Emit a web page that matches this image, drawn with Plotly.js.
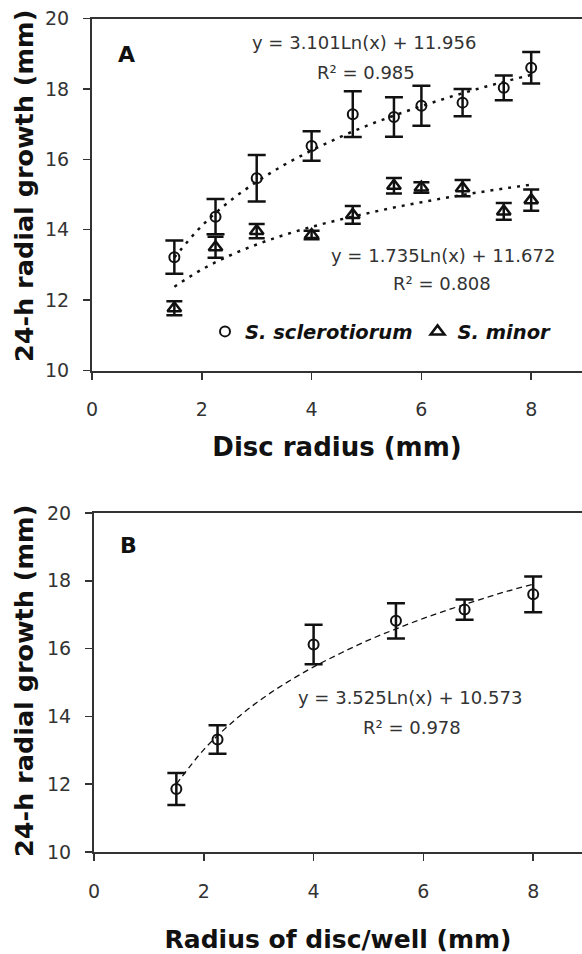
<!DOCTYPE html>
<html><head><meta charset="utf-8">
<script src="https://cdn.plot.ly/plotly-3.0.1.min.js"></script>
<style>html,body{margin:0;padding:0;background:#fff;} #chart{width:582px;height:954px;}</style>
</head><body><div id="chart"></div>
<script>
// ---- Panel A data ----
const discRadiusA = [1.5, 2.25, 3, 4, 4.75, 5.5, 6, 6.75, 7.5, 8];
const sclerotiorumA = [13.22, 14.37, 15.46, 16.38, 17.28, 17.2, 17.52, 17.61, 18.03, 18.6];
const sclerotiorumErrA = [0.47, 0.5, 0.66, 0.42, 0.65, 0.56, 0.57, 0.39, 0.35, 0.45];
const minorA = [11.77, 13.5, 13.96, 13.85, 14.42, 15.25, 15.2, 15.18, 14.52, 14.84];
const minorErrA = [0.2, 0.3, 0.2, 0.12, 0.25, 0.22, 0.15, 0.23, 0.24, 0.3];
// trend curves
const trendX = [1.5, 2, 2.5, 3, 3.5, 4, 4.5, 5, 5.5, 6, 6.5, 7, 7.5, 8];
const trendSclerotiorumA = [13.21, 14.11, 14.80, 15.36, 15.84, 16.25, 16.62, 16.95, 17.24, 17.51, 17.76, 17.99, 18.20, 18.40];
const trendMinorA = [12.38, 12.87, 13.26, 13.58, 13.85, 14.08, 14.28, 14.46, 14.63, 14.78, 14.92, 15.05, 15.17, 15.28];
// ---- Panel B data ----
const wellRadiusB = [1.5, 2.25, 4, 5.5, 6.75, 8];
const sclerotiorumB = [11.86, 13.32, 16.12, 16.82, 17.15, 17.6];
const sclerotiorumErrB = [0.47, 0.42, 0.58, 0.52, 0.3, 0.53];
const trendB = [12.00, 13.02, 13.80, 14.45, 14.99, 15.46, 15.87, 16.25, 16.58, 16.89, 17.17, 17.43, 17.68, 17.90];
// ---- text ----
const xTickVals = [0, 2, 4, 6, 8];
const xTickText = ['0', '2', '4', '6', '8'];
const yTickVals = [10, 12, 14, 16, 18, 20];
const yTickText = ['10', '12', '14', '16', '18', '20'];
const yTitle = '24-h radial growth (mm)';
const xTitleA = 'Disc radius (mm)';
const xTitleB = 'Radius of disc/well (mm)';
const eqA1 = 'y = 3.101Ln(x) + 11.956';
const r2A1 = 'R² = 0.985';
const eqA2 = 'y = 1.735Ln(x) + 11.672';
const r2A2 = 'R² = 0.808';
const eqB = 'y = 3.525Ln(x) + 10.573';
const r2B = 'R² = 0.978';
const seriesNames = ['S. sclerotiorum', 'S. minor'];

const W = 582, H = 954;
const px = x => x / W;
const py = y => 1 - y / H;
const FONT = 'DejaVu Sans';
const INK = '#111';

const traces = [
  {x: trendX, y: trendSclerotiorumA, xaxis: 'x', yaxis: 'y', mode: 'lines', showlegend: false, hoverinfo: 'skip',
   line: {color: INK, width: 2.5, dash: '3px,6px', shape: 'spline'}},
  {x: trendX, y: trendMinorA, xaxis: 'x', yaxis: 'y', mode: 'lines', showlegend: false, hoverinfo: 'skip',
   line: {color: INK, width: 2.5, dash: '3px,6px', shape: 'spline'}},
  {x: discRadiusA, y: sclerotiorumA, xaxis: 'x', yaxis: 'y', mode: 'markers', name: seriesNames[0],
   marker: {symbol: 'circle-open', size: 10, color: INK, line: {width: 2, color: INK}},
   error_y: {type: 'data', array: sclerotiorumErrA, visible: true, color: INK, thickness: 2.5, width: 9}},
  {x: discRadiusA, y: minorA, xaxis: 'x', yaxis: 'y', mode: 'markers', name: seriesNames[1],
   marker: {symbol: 'triangle-up-open', size: 12, color: INK, line: {width: 2.5, color: INK}},
   error_y: {type: 'data', array: minorErrA, visible: true, color: INK, thickness: 2.5, width: 8}},
  {x: trendX, y: trendB, xaxis: 'x2', yaxis: 'y2', mode: 'lines', showlegend: false, hoverinfo: 'skip',
   line: {color: INK, width: 1.3, dash: '6px,4px', shape: 'spline'}},
  {x: wellRadiusB, y: sclerotiorumB, xaxis: 'x2', yaxis: 'y2', mode: 'markers', name: seriesNames[0], showlegend: false,
   marker: {symbol: 'circle-open', size: 10, color: INK, line: {width: 2, color: INK}},
   error_y: {type: 'data', array: sclerotiorumErrB, visible: true, color: INK, thickness: 2.5, width: 9}}
];

function xAxis(domainLeft, anchor, title, titleSize, standoff) {
  return {domain: [domainLeft, 1], range: [0, (W - domainLeft * W) / 54.9], anchor: anchor,
    tickmode: 'array', tickvals: xTickVals, ticktext: xTickText,
    ticks: 'outside', ticklen: 7, tickwidth: 1.5, tickcolor: '#333',
    showline: true, linewidth: 2, linecolor: '#333', mirror: true,
    showgrid: false, zeroline: false, ticklabelstandoff: 14,
    tickfont: {family: FONT, size: 19, color: '#333'},
    title: {text: title, standoff: standoff, font: {family: FONT, size: titleSize, color: INK, weight: 'bold'}}};
}
function yAxis(domain, anchor) {
  return {domain: domain, range: [10, 20], anchor: anchor,
    tickmode: 'array', tickvals: yTickVals, ticktext: yTickText,
    ticks: 'outside', ticklen: 7, tickwidth: 1.5, tickcolor: '#333',
    showline: true, linewidth: 2, linecolor: '#333',
    showgrid: false, zeroline: false, ticklabelstandoff: 10,
    tickfont: {family: FONT, size: 19, color: '#333'}};
}

const eqFont = {family: FONT, size: 18, color: '#333'};
const yTitleFont = {family: FONT, size: 25.5, color: INK, weight: 'bold'};
function ann(text, x, y, font, extra) {
  return Object.assign({text: text, xref: 'paper', yref: 'paper', x: px(x), y: py(y),
    xanchor: 'center', yanchor: 'middle', showarrow: false, font: font}, extra || {});
}

const layout = {
  width: W, height: H, margin: {l: 0, r: 0, t: 0, b: 0},
  paper_bgcolor: '#fff', plot_bgcolor: 'rgba(0,0,0,0)',
  xaxis: xAxis(92 / W, 'y', xTitleA, 26, 19),
  yaxis: yAxis([py(370.5), py(18.5)], 'x'),
  xaxis2: xAxis(94 / W, 'y2', xTitleB, 25, 31),
  yaxis2: yAxis([py(852), py(513)], 'x2'),
  showlegend: true,
  legend: {orientation: 'h', x: px(205), y: py(331.7), xanchor: 'left', yanchor: 'middle',
    bgcolor: 'rgba(0,0,0,0)', borderwidth: 0,
    font: {family: FONT, size: 19.5, color: INK, weight: 'bold', style: 'italic'}},
  annotations: [
    ann('A', 126, 55, {family: FONT, size: 22, color: INK, weight: 'bold'}),
    ann('B', 128, 545, {family: FONT, size: 22, color: INK, weight: 'bold'}),
    ann(eqA1, 364, 43, eqFont),
    ann(r2A1, 366, 73, eqFont),
    ann(eqA2, 443, 255, eqFont),
    ann(r2A2, 442, 283, eqFont),
    ann(eqB, 410, 697, eqFont),
    ann(r2B, 412, 727, eqFont),
    ann(yTitle, 24, 186, yTitleFont, {textangle: -90}),
    ann(yTitle, 24, 681, yTitleFont, {textangle: -90})
  ]
};

Plotly.newPlot('chart', traces, layout, {staticPlot: true, displayModeBar: false});
</script>
</body></html>
